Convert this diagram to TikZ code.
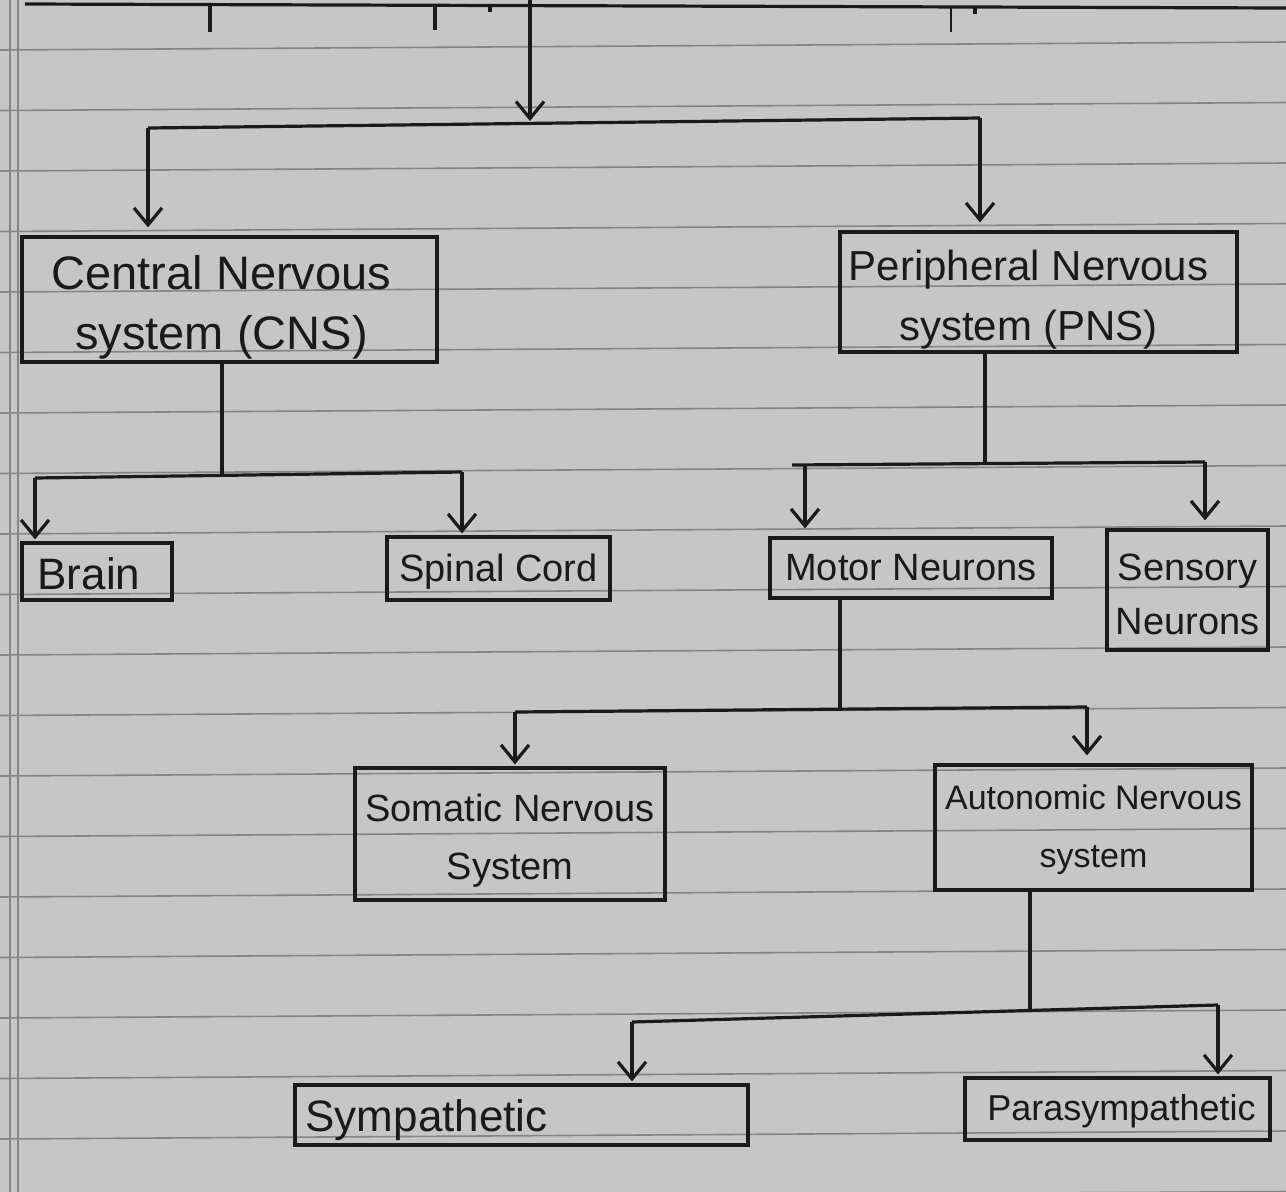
\documentclass[tikz,border=0pt]{standalone}
\usepackage{fontspec}
\setmainfont{Liberation Sans}
\usetikzlibrary{arrows.meta}
\definecolor{paper}{HTML}{C6C6C6}
\definecolor{rulecol}{HTML}{858585}
\definecolor{ink}{HTML}{1A1A1A}
\tikzset{
  box/.style={draw=ink, line width=3.2pt, inner sep=0pt},
  lbl/.style={inner sep=0pt, text=ink, align=center},
  conn/.style={draw=ink, line width=3.2pt},
  arr/.style={conn, -{Straight Barb[length=17pt,width=28pt]}, shorten >=8pt},
  ruled/.style={draw=rulecol, line width=1.6pt},
}
\newcommand{\fs}[2]{\fontsize{#1}{#2}\selectfont}
\begin{document}
\begin{tikzpicture}[x=1pt,y=-1pt]
\fill[paper] (0,0) rectangle (1286,1192);
\useasboundingbox (0,0) rectangle (1286,1192);
% ruled paper
\foreach \k in {0,...,19} \draw[ruled] (0,{50+60.5*\k}) -- (1286,{42+60.5*\k});
\draw[ruled] (10,0) -- (10,1192);
\draw[ruled] (18,0) -- (18,1192);
% fragments of the row above (cut off)
\draw[conn] (25,4) -- (1286,8);
\draw[conn] (210,4) -- (210,32);
\draw[conn] (435,5) -- (435,30);
\draw[conn] (490,5) -- (490,12);
\draw[conn, line width=1.8pt] (951,7) -- (951,32);
\draw[conn] (975,7) -- (975,14);

% boxes
\node[box, minimum width=415, minimum height=125] (cns) at (229.5,299.5) {};
\node[box, minimum width=397, minimum height=120] (pns) at (1038.5,292) {};
\node[box, minimum width=150, minimum height=57] (brain) at (97,571.5) {};
\node[box, minimum width=223, minimum height=63] (spinal) at (498.5,568.5) {};
\node[box, minimum width=282, minimum height=60] (motor) at (911,568) {};
\node[box, minimum width=161, minimum height=120] (sensory) at (1187.5,590) {};
\node[box, minimum width=310, minimum height=132] (somatic) at (510,834) {};
\node[box, minimum width=317, minimum height=125] (auto) at (1093.5,827.5) {};
\node[box, minimum width=453, minimum height=60] (symp) at (521.5,1115) {};
\node[box, minimum width=305, minimum height=62] (para) at (1117.5,1109) {};

% texts
\node[lbl, font=\fs{47}{60}] (cnsT) at ([xshift=-8pt,yshift=-8pt]cns.center) {Central Nervous\\system (CNS)};
\node[lbl, font=\fs{42}{60}] (pnsT) at ([xshift=-10pt,yshift=-8pt]pns.center) {Peripheral Nervous\\system (PNS)};
\node[lbl, font=\fs{44}{52}] (brainT) at ([xshift=-8pt,yshift=-2pt]brain.center) {Brain};
\node[lbl, font=\fs{38}{46}] (spinalT) at ([yshift=-3pt]spinal.center) {Spinal Cord};
\node[lbl, font=\fs{38}{46}] (motorT) at (motor.center) {Motor Neurons};
\node[lbl, font=\fs{38}{54}] (sensoryT) at ([yshift=-4pt]sensory.center) {Sensory\\Neurons};
\node[lbl, font=\fs{38}{58}] (somaticT) at ([xshift=0pt,yshift=-7pt]somatic.center) {Somatic Nervous\\System};
\node[lbl, font=\fs{34}{58}] (autoT) at ([yshift=-2pt]auto.center) {Autonomic Nervous\\system};
\node[lbl, font=\fs{44}{50}, anchor=west] (sympT) at ([xshift=12pt,yshift=-5pt]symp.west) {Sympathetic};
\node[lbl, font=\fs{36}{44}] (paraT) at ([xshift=4pt,yshift=-2pt]para.center) {Parasympathetic};

% junction coordinates
\coordinate (top) at (530,0);
\coordinate (b1M) at (530,123);
\coordinate (b1L) at (148,128);
\coordinate (b1R) at (980,118);
\coordinate (c1) at (222,475);
\coordinate (c1L) at (35,478);
\coordinate (c1R) at (462,472);
\coordinate (p1) at (985,464);
\coordinate (p1L) at (792,465);
\coordinate (p1a) at (805,465);
\coordinate (p1R) at (1205,462);
\coordinate (m1) at (840,710);
\coordinate (m1L) at (515,712);
\coordinate (m1R) at (1087,707);
\coordinate (a1) at (1030,1010);
\coordinate (a1L) at (632,1022);
\coordinate (a1R) at (1218,1005);

% top level
\draw[arr, shorten >=2pt] (top) -- (b1M);
\draw[conn] (b1L) -- (b1R);
\draw[arr] (b1L) -- (b1L |- cns.north);
\draw[arr] (b1R) -- (b1R |- pns.north);

% CNS
\draw[conn] (cns.south -| c1) -- (c1);
\draw[conn] (c1L) -- (c1R);
\draw[arr, shorten >=2pt] (c1L) -- (c1L |- brain.north);
\draw[arr, shorten >=2pt] (c1R) -- (c1R |- spinal.north);

% PNS
\draw[conn] (pns.south -| p1) -- (p1);
\draw[conn] (p1L) -- (p1R);
\draw[arr] (p1a) -- (p1a |- motor.north);
\draw[arr] (p1R) -- (p1R |- sensory.north);

% Motor neurons
\draw[conn] (motor.south -| m1) -- (m1);
\draw[conn] (m1L) -- (m1R);
\draw[arr, shorten >=2pt] (m1L) -- (m1L |- somatic.north);
\draw[arr] (m1R) -- (m1R |- auto.north);

% Autonomic
\draw[conn] (auto.south -| a1) -- (a1);
\draw[conn] (a1L) -- (a1R);
\draw[arr, shorten >=2pt] (a1L) -- (a1L |- symp.north);
\draw[arr, shorten >=2pt] (a1R) -- (a1R |- para.north);
\end{tikzpicture}
\end{document}
